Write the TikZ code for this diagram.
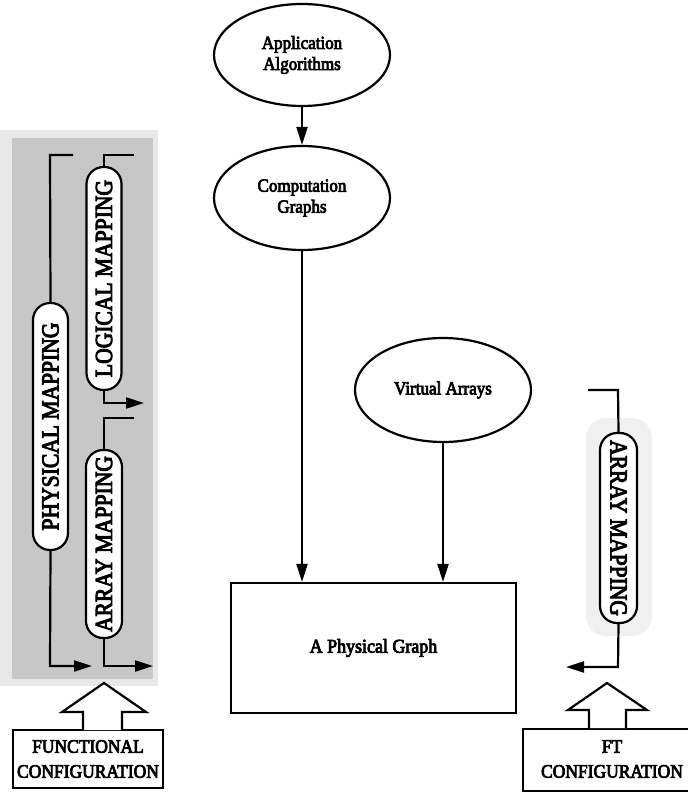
\documentclass[tikz,border=0pt]{standalone}
\usepackage{fontspec}
\setmainfont{Liberation Serif}
\newfontfamily\labelfont{Liberation Serif}[FakeBold=4,FakeStretch=0.92]
\newfontfamily\stagefont{Liberation Serif}[FakeBold=4,FakeStretch=0.88]
\usetikzlibrary{arrows.meta,shapes.geometric,calc}

\begin{document}
\begin{tikzpicture}[x=1pt,y=-1pt,
  line width=2.2pt,
  tip/.style={-{Triangle[length=18pt,width=11pt]}},
  oval/.style={draw,ellipse,inner sep=0pt,font=\labelfont\fontsize{18.5}{21}\selectfont,align=center},
  capsule/.style={draw,fill=white,rounded corners=17pt,inner sep=0pt},
  captext/.style={font=\stagefont\fontsize{24.5}{26}\selectfont},
  cfgbox/.style={draw,fill=white,inner sep=0pt},
  cfgtext/.style={font=\labelfont\fontsize{19}{25}\selectfont,align=center},
  fatarrow/.style={draw,fill=white,line width=2.2pt,line join=miter}]
\useasboundingbox (0,0) rectangle (687,799);

% shaded band behind the mapping stages on the left
\fill[black!9] (0,130) rectangle (158,686);
\fill[black!22] (12,138) rectangle (153,679);
% faint halo behind the fault-tolerance stage
\fill[black!6,rounded corners=20pt] (586,418) rectangle (652,636);

% central flow
\node[oval,minimum width=176pt,minimum height=102pt] (app) at (302,55) {Application\\Algorithms};
\node[oval,minimum width=176pt,minimum height=104pt] (comp) at (302,198) {Computation\\Graphs};
\node[oval,minimum width=176pt,minimum height=104pt] (virt) at (443,390) {Virtual Arrays};
\node[draw,minimum width=285pt,minimum height=130pt,font=\labelfont\fontsize{19.5}{22}\selectfont] (phys) at (373.5,648) {A Physical Graph};

\draw[tip] (app) -- (comp);
\draw[tip] (comp.south) -- (comp.south |- phys.north);
\draw[tip] (virt.south) -- (virt.south |- phys.north);

% left: physical mapping
\coordinate (pmTop) at (50,155);
\coordinate (pmEnd) at (50,666);
\coordinate (pmTip) at (92,666);
\node[capsule,minimum width=35pt,minimum height=247pt] (pm) at (50.5,426.5) {};
\node[captext,rotate=90] at (pm.center) {PHYSICAL MAPPING};
\draw (73,155) -- (pmTop) -- (pm.north);
\draw[tip] (pm.south) -- (pmEnd) -- (pmTip);

% left: logical mapping
\coordinate (lmTop) at (104,155);
\coordinate (lmEnd) at (104,403);
\coordinate (lmTip) at (144,403);
\node[capsule,minimum width=35pt,minimum height=223pt] (lm) at (104,278.5) {};
\node[captext,rotate=90] at (lm.center) {LOGICAL MAPPING};
\draw (134,155) -- (lmTop) -- (lm.north);
\draw[tip] (lm.south) -- (lmEnd) -- (lmTip);

% left: array mapping
\coordinate (amTop) at (104,418);
\coordinate (amEnd) at (104,666);
\coordinate (amTip) at (153,666);
\node[capsule,minimum width=36pt,minimum height=188pt] (am) at (104,544) {};
\node[captext,rotate=90] at (am.center) {ARRAY MAPPING};
\draw (134,418) -- (amTop) -- (am.north);
\draw[tip] (am.south) -- (amEnd) -- (amTip);

% functional configuration
\node[cfgbox,minimum width=150pt,minimum height=58pt] (fc) at (88,759) {};
\node[cfgtext] at (fc.center) {FUNCTIONAL\\CONFIGURATION};
\draw[fatarrow] (83,730) -- (83,712) -- (62,712) -- (104,683) -- (146,712) -- (122,712) -- (122,730);

% right: fault-tolerance array mapping
\coordinate (ftTop) at (618,390);
\coordinate (ftEnd) at (618,667);
\coordinate (ftTip) at (566,667);
\node[capsule,minimum width=37pt,minimum height=190pt] (ft) at (618.5,528) {};
\node[captext,rotate=-90] at (ft.center) {ARRAY MAPPING};
\draw (588,390) -- (ftTop) -- (ft.north);
\draw[tip] (ft.south) -- (ftEnd) -- (ftTip);

% FT configuration
\node[cfgbox,anchor=north west,minimum width=190pt,minimum height=62pt] (ftc) at (522,728) {};
\node[cfgtext] at (612,759) {FT\\CONFIGURATION};
\draw[fatarrow] (589,728) -- (589,710) -- (568,710) -- (607,683) -- (647,710) -- (626,710) -- (626,728);
\end{tikzpicture}
\end{document}
